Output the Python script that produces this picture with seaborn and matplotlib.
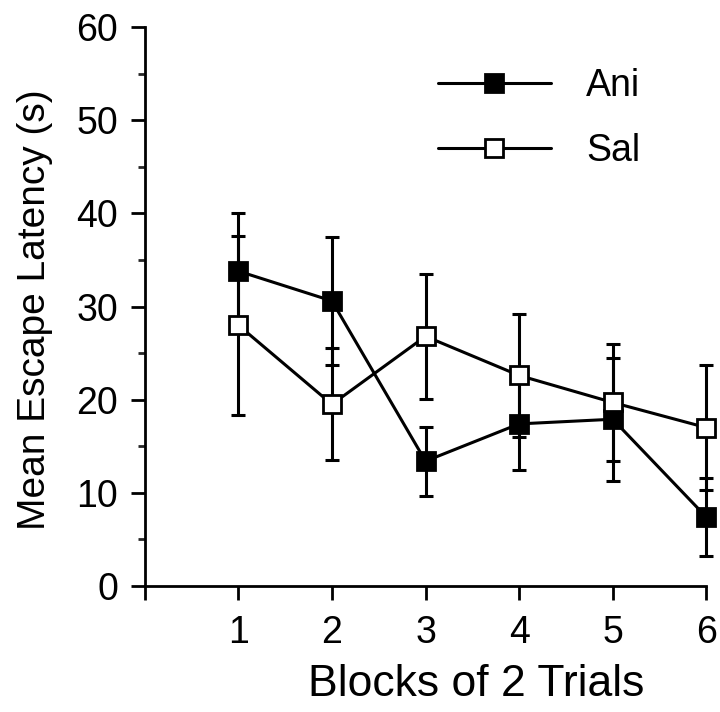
import numpy as np
import pandas as pd
import matplotlib
matplotlib.use("Agg")
import matplotlib.pyplot as plt
import seaborn as sns

# values
blocks = [1, 2, 3, 4, 5, 6]
ani_mean = [33.8, 30.6, 13.4, 17.4, 17.9, 7.4]
ani_sem = [6.2, 6.9, 3.7, 5.0, 6.6, 4.2]
sal_mean = [28.0, 19.5, 26.8, 22.6, 19.7, 17.0]
sal_sem = [9.6, 6.0, 6.7, 6.6, 6.3, 6.7]

df = pd.DataFrame({
    "Block": blocks * 2,
    "Latency": ani_mean + sal_mean,
    "SEM": ani_sem + sal_sem,
    "Group": ["Ani"] * 6 + ["Sal"] * 6,
})

sns.set_style("ticks")
plt.rcParams["font.family"] = ["Liberation Sans", "DejaVu Sans"]
plt.rcParams["text.color"] = "black"
plt.rcParams["axes.labelcolor"] = "black"

fig = plt.figure(figsize=(7.2, 7.12), dpi=100)
ax = fig.add_axes([0.201, 0.177, 0.780, 0.785])

# error bars first, markers on top
for grp in ["Ani", "Sal"]:
    sub = df[df["Group"] == grp]
    eb = ax.errorbar(sub["Block"], sub["Latency"], yerr=sub["SEM"], fmt="none",
                     ecolor="black", elinewidth=2.2, capsize=5, capthick=2.2,
                     zorder=2)
    for art in eb.lines[1] + eb.lines[2]:
        art.set_clip_on(False)

face = {"Ani": "black", "Sal": "white"}
for grp in ["Ani", "Sal"]:
    sub = df[df["Group"] == grp]
    sns.lineplot(data=sub, x="Block", y="Latency", ax=ax, color="black",
                 marker="s", markersize=13, markerfacecolor=face[grp],
                 markeredgecolor="black", markeredgewidth=2,
                 linewidth=2.2, label=grp, zorder=3, clip_on=False)

ax.set_xlim(0, 6)
ax.set_ylim(0, 60)
ax.set_xticks([0, 1, 2, 3, 4, 5, 6])
ax.set_xticklabels(["", "1", "2", "3", "4", "5", "6"])
ax.set_yticks(np.arange(0, 61, 10))
ax.set_yticks(np.arange(5, 60, 10), minor=True)
ax.tick_params(axis="both", which="major", direction="out", length=10,
               width=2, labelsize=27, colors="black")
ax.tick_params(axis="x", which="major", pad=11)
ax.tick_params(axis="y", which="major", pad=9)
ax.tick_params(axis="y", which="minor", direction="out", length=5, width=2)
for s in ["left", "bottom"]:
    ax.spines[s].set_linewidth(2)
    ax.spines[s].set_color("black")
sns.despine(ax=ax)

ax.set_xlabel("Blocks of 2 Trials", fontsize=32)
ax.set_ylabel("Mean Escape Latency (s)", fontsize=28)
ax.xaxis.set_label_coords(0.59, -0.14)
ax.yaxis.set_label_coords(-0.163, 0.494)

leg = ax.legend(loc="upper left", bbox_to_anchor=(438 / 720, 1 - 68 / 712),
                bbox_transform=fig.transFigure, frameon=False,
                fontsize=27, handlelength=3.0, handletextpad=0.95,
                labelspacing=0.77, borderpad=0, borderaxespad=0)

fig.savefig("out.png", dpi=100)
